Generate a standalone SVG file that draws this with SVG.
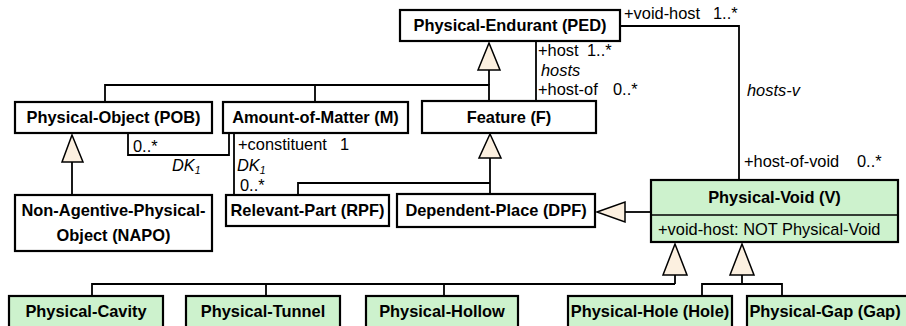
<svg xmlns="http://www.w3.org/2000/svg" width="906" height="326" viewBox="0 0 906 326">
<style>
.box{fill:#ffffff;stroke:#000;stroke-width:2.2}
.gbox{fill:#cdf2cd;stroke:#000;stroke-width:2.2}
.t{font-family:"Liberation Sans",Arial,sans-serif;font-size:16.4px;font-weight:bold;fill:#000;text-anchor:middle}
.l{font-family:"Liberation Sans",Arial,sans-serif;font-size:16.4px;fill:#000}
.i{font-style:italic}
.ln{fill:none;stroke:#000;stroke-width:1.8}
.tri{fill:#fcf0e0;stroke:#000;stroke-width:1.5}
</style>
<rect width="906" height="326" fill="#fff"/>
<g id="connectors">
  <polyline class="ln" points="489,70 489,85"/>
  <polyline class="ln" points="105,102 105,85 489,85 489,101"/>
  <polyline class="ln" points="315,85 315,102"/>
  <polygon class="tri" points="489,43 478,70 500,70"/>
  <polyline class="ln" points="536,41 536,101"/>
  <polyline class="ln" points="620,26 739,26 739,180"/>
  <polyline class="ln" points="128,133 128,155 229,155 229,133"/>
  <polyline class="ln" points="234,133 234,195"/>
  <polyline class="ln" points="490,158 490,195"/>
  <polyline class="ln" points="298,195 298,183 490,183"/>
  <polygon class="tri" points="490,134 479,158 501,158"/>
  <polyline class="ln" points="625,212 651,212"/>
  <polygon class="tri" points="597,212 625,202 625,222"/>
  <polyline class="ln" points="72,162 72,195"/>
  <polygon class="tri" points="72,135 62,162 83,162"/>
  <polyline class="ln" points="675,275 675,284"/>
  <polyline class="ln" points="92,296 92,284 675,284"/>
  <polyline class="ln" points="266,284 266,296"/>
  <polyline class="ln" points="444,284 444,296"/>
  <polygon class="tri" points="675,244 663,275 687,275"/>
  <polyline class="ln" points="742,275 742,284"/>
  <polyline class="ln" points="702,296 702,284 782,284 782,296"/>
  <polygon class="tri" points="742,244 730,275 754,275"/>
  <text class="l" x="538" y="56">+host</text>
  <text class="l" x="587" y="56">1..*</text>
  <text class="l i" x="541" y="76">hosts</text>
  <text class="l" x="538" y="95">+host-of</text>
  <text class="l" x="613" y="95">0..*</text>
  <text class="l" x="624" y="19">+void-host</text>
  <text class="l" x="713" y="19">1..*</text>
  <text class="l i" x="747" y="96">hosts-v</text>
  <text class="l" x="744" y="167">+host-of-void</text>
  <text class="l" x="857" y="167">0..*</text>
  <text class="l" x="133" y="152">0..*</text>
  <text class="l i" x="172" y="171">DK<tspan font-size="10.5" dy="3">1</tspan></text>
  <text class="l" x="238" y="150">+constituent</text>
  <text class="l" x="340" y="150">1</text>
  <text class="l i" x="237" y="171">DK<tspan font-size="10.5" dy="3">1</tspan></text>
  <text class="l" x="240" y="191">0..*</text>
</g>
<g id="PED"><rect class="box" x="400" y="10" width="220" height="31"/><text class="t" x="510" y="31">Physical-Endurant (PED)</text></g>
<g id="POB"><rect class="box" x="15" y="102" width="197" height="31"/><text class="t" x="113.5" y="123">Physical-Object (POB)</text></g>
<g id="M"><rect class="box" x="223" y="102" width="185" height="31"/><text class="t" x="315.5" y="123">Amount-of-Matter (M)</text></g>
<g id="F"><rect class="box" x="422" y="101" width="174" height="32"/><text class="t" x="509" y="123">Feature (F)</text></g>
<g id="NAPO"><rect class="box" x="15" y="195" width="197" height="56"/><text class="t" x="113.5" y="216">Non-Agentive-Physical-</text><text class="t" x="113.5" y="241">Object (NAPO)</text></g>
<g id="RPF"><rect class="box" x="226" y="195" width="163" height="31"/><text class="t" x="307.5" y="216">Relevant-Part (RPF)</text></g>
<g id="DPF"><rect class="box" x="397" y="194" width="198" height="33"/><text class="t" x="496" y="216">Dependent-Place (DPF)</text></g>
<g id="V"><rect class="gbox" x="651" y="180" width="247" height="62"/><line x1="651" y1="215" x2="898" y2="215" stroke="#000" stroke-width="1.5"/><text class="t" x="774.5" y="203">Physical-Void (V)</text><text class="l" x="658" y="235">+void-host: NOT Physical-Void</text></g>
<g id="Cavity"><rect class="gbox" x="9" y="296" width="154" height="34"/><text class="t" x="86" y="317">Physical-Cavity</text></g>
<g id="Tunnel"><rect class="gbox" x="186" y="296" width="154" height="34"/><text class="t" x="263" y="317">Physical-Tunnel</text></g>
<g id="Hollow"><rect class="gbox" x="366" y="296" width="152" height="34"/><text class="t" x="442" y="317">Physical-Hollow</text></g>
<g id="Hole"><rect class="gbox" x="568" y="296" width="164" height="34"/><text class="t" x="650" y="317">Physical-Hole (Hole)</text></g>
<g id="Gap"><rect class="gbox" x="747" y="296" width="165" height="34"/><text class="t" x="825" y="317">Physical-Gap (Gap)</text></g>
</svg>
